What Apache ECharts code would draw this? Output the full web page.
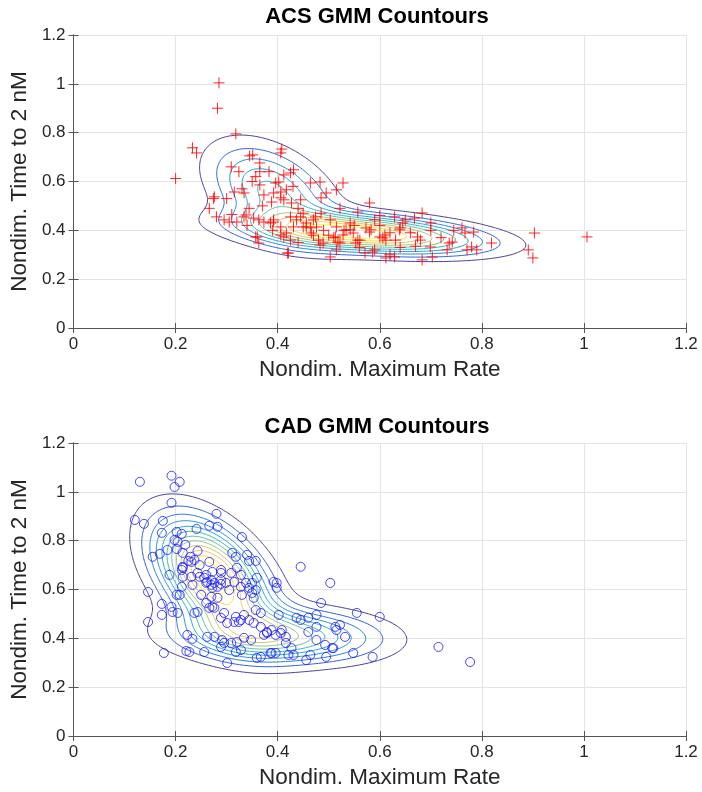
<!DOCTYPE html>
<html>
<head>
<meta charset="utf-8">
<script src="https://cdn.jsdelivr.net/npm/echarts@6/dist/echarts.min.js"></script>
<style>
html, body { margin: 0; padding: 0; background: #fff; }
#chart { width: 702px; height: 792px; }
</style>
</head>
<body>
<div id="chart"></div>
<script>
// ---- data ----
var axisMin = 0, axisMax = 1.2, axisStep = 0.2;

// ACS samples (nondim. max rate, nondim. time to 2 nM)
var acsX = [0.285,0.282,0.318,0.233,0.241,0.200,0.276,0.274,0.266,0.280,0.408,0.406,0.351,0.345,0.309,0.324,0.365,0.365,0.383,0.431,
  0.425,0.412,0.357,0.396,0.402,0.365,0.464,0.483,0.528,0.315,0.334,0.392,0.406,0.417,0.373,0.388,0.406,0.412,0.445,0.427,
  0.485,0.495,0.515,0.295,0.305,0.320,0.338,0.344,0.334,0.353,0.363,0.373,0.392,0.406,0.425,0.437,0.357,0.363,0.417,0.425,
  0.419,0.456,0.466,0.476,0.483,0.503,0.513,0.518,0.528,0.503,0.515,0.534,0.542,0.474,0.456,0.450,0.580,0.683,0.668,0.629,
  0.645,0.640,0.650,0.590,0.557,0.522,0.761,0.767,0.784,0.819,0.780,0.790,0.771,0.736,0.742,0.732,0.699,0.703,0.683,0.674,
  0.680,0.629,0.612,0.590,0.571,0.606,0.612,0.573,0.580,0.583,0.542,0.548,0.557,0.510,0.522,0.515,0.903,0.891,0.900,1.006,
  0.450,0.464,0.489,0.480,0.553,0.561,0.586,0.600,0.610,0.631,0.639,0.620,0.421,0.360,0.445,0.431,0.470,0.386,0.392,0.406,
  0.412,0.530,0.490,0.500,0.470,0.550,0.600,0.620,0.660,0.700,0.720,0.670,0.640,0.560,0.440,0.390,0.340,0.310,0.300,0.370,
  0.440,0.485,0.600,0.700,0.745,0.330,0.350,0.430];
var acsY = [1.004,0.900,0.795,0.738,0.717,0.612,0.537,0.530,0.490,0.455,0.733,0.717,0.709,0.705,0.660,0.640,0.676,0.640,0.640,0.648,
  0.635,0.627,0.620,0.594,0.598,0.586,0.594,0.598,0.594,0.557,0.553,0.553,0.557,0.566,0.545,0.516,0.533,0.525,0.525,0.512,
  0.533,0.553,0.566,0.443,0.434,0.434,0.463,0.490,0.455,0.450,0.443,0.434,0.434,0.414,0.455,0.443,0.373,0.348,0.389,0.360,
  0.307,0.414,0.389,0.414,0.340,0.291,0.373,0.352,0.381,0.443,0.414,0.402,0.430,0.455,0.430,0.470,0.512,0.471,0.450,0.455,
  0.430,0.410,0.443,0.443,0.475,0.490,0.410,0.389,0.393,0.348,0.332,0.320,0.320,0.348,0.352,0.320,0.332,0.291,0.279,0.373,
  0.360,0.291,0.287,0.320,0.307,0.369,0.360,0.410,0.393,0.402,0.402,0.389,0.360,0.370,0.348,0.320,0.389,0.320,0.287,0.373,
  0.414,0.410,0.348,0.360,0.348,0.360,0.311,0.373,0.381,0.360,0.402,0.300,0.307,0.373,0.455,0.414,0.443,0.430,0.443,0.381,
  0.373,0.400,0.400,0.380,0.380,0.420,0.420,0.390,0.390,0.400,0.370,0.335,0.330,0.330,0.350,0.400,0.420,0.465,0.530,0.500,
  0.490,0.470,0.460,0.430,0.400,0.570,0.600,0.580];

// CAD samples
var cadX = [0.130,0.192,0.208,0.198,0.192,0.120,0.138,0.175,0.280,0.266,0.282,0.241,0.202,0.212,0.173,0.330,0.198,0.204,0.184,0.202,
  0.169,0.155,0.219,0.214,0.229,0.225,0.243,0.311,0.318,0.340,0.344,0.357,0.266,0.247,0.214,0.214,0.212,0.188,0.247,0.260,
  0.272,0.289,0.320,0.309,0.359,0.338,0.344,0.260,0.270,0.289,0.233,0.146,0.231,0.237,0.214,0.212,0.289,0.328,0.231,0.243,
  0.256,0.262,0.270,0.276,0.272,0.282,0.289,0.299,0.305,0.315,0.328,0.350,0.330,0.350,0.357,0.353,0.250,0.270,0.282,0.260,
  0.272,0.266,0.276,0.208,0.202,0.173,0.192,0.194,0.204,0.173,0.146,0.237,0.243,0.289,0.295,0.301,0.318,0.324,0.315,0.328,
  0.334,0.344,0.353,0.357,0.367,0.367,0.379,0.373,0.223,0.233,0.262,0.276,0.291,0.309,0.320,0.334,0.348,0.221,0.227,0.177,
  0.256,0.289,0.295,0.301,0.318,0.328,0.359,0.367,0.386,0.445,0.503,0.485,0.437,0.445,0.460,0.476,0.476,0.460,0.513,0.522,
  0.532,0.515,0.493,0.509,0.456,0.495,0.427,0.431,0.421,0.402,0.392,0.398,0.398,0.408,0.416,0.416,0.406,0.388,0.396,0.379,
  0.388,0.396,0.548,0.555,0.600,0.507,0.476,0.586,0.464,0.715,0.777];
var cadY = [1.041,1.066,1.041,1.020,0.955,0.885,0.869,0.881,0.910,0.861,0.857,0.848,0.836,0.828,0.832,0.815,0.803,0.795,0.762,0.766,
  0.746,0.734,0.783,0.750,0.734,0.717,0.758,0.750,0.734,0.742,0.717,0.717,0.713,0.700,0.689,0.652,0.611,0.660,0.652,0.660,
  0.672,0.668,0.689,0.668,0.648,0.627,0.607,0.627,0.619,0.623,0.619,0.590,0.713,0.721,0.693,0.680,0.680,0.660,0.652,0.668,
  0.648,0.631,0.639,0.627,0.607,0.611,0.639,0.627,0.598,0.631,0.611,0.627,0.578,0.586,0.598,0.566,0.578,0.570,0.566,0.545,
  0.529,0.525,0.525,0.578,0.578,0.541,0.529,0.508,0.504,0.496,0.467,0.504,0.508,0.484,0.504,0.463,0.488,0.467,0.467,0.475,
  0.496,0.475,0.463,0.516,0.504,0.447,0.426,0.414,0.414,0.398,0.406,0.406,0.393,0.381,0.385,0.402,0.393,0.348,0.344,0.340,
  0.344,0.365,0.381,0.299,0.344,0.352,0.320,0.324,0.340,0.693,0.627,0.545,0.484,0.475,0.484,0.496,0.447,0.426,0.447,0.455,
  0.406,0.434,0.373,0.360,0.311,0.324,0.360,0.332,0.332,0.496,0.631,0.607,0.627,0.434,0.406,0.381,0.422,0.434,0.414,0.422,
  0.340,0.340,0.340,0.504,0.488,0.360,0.393,0.324,0.332,0.365,0.303];

// starting means for the 2-component mixture fits
var acsStart = [[0.55, 0.39], [0.36, 0.58]];
var cadStart = [[0.24, 0.68], [0.37, 0.43]];
var acsLevelCount = 10;
var cadLevelCount = 12;

// parula colour stops
var parula = ['#352A87', '#0F5CDD', '#1481D6', '#06A4CA', '#2EB7A4', '#87BF77', '#D1BB59', '#FEC832', '#F9FB0E'];

function parulaAt(t) {
  var p = t * (parula.length - 1), i = Math.min(Math.floor(p), parula.length - 2), f = p - i;
  var a = parseInt(parula[i].slice(1), 16), b = parseInt(parula[i + 1].slice(1), 16);
  var c = [16, 8, 0].map(function (s) {
    var va = (a >> s) & 255, vb = (b >> s) & 255;
    return Math.round(va + (vb - va) * f);
  });
  return 'rgb(' + c.join(',') + ')';
}

function gaussComp(w, m, c) {
  var det = c[0] * c[2] - c[1] * c[1];
  return { mx: m[0], my: m[1], a: c[2] / det, b: -c[1] / det, d: c[0] / det,
    norm: w / (2 * Math.PI * Math.sqrt(det)) };
}
function compPdf(p, x, y) {
  var dx = x - p.mx, dy = y - p.my;
  return p.norm * Math.exp(-0.5 * (p.a * dx * dx + 2 * p.b * dx * dy + p.d * dy * dy));
}

// EM fit of a gaussian mixture to the samples
function fitGmm(xs, ys, start) {
  var K = start.length, N = xs.length;
  var w = start.map(function () { return 1 / K; });
  var mu = start.map(function (m) { return m.slice(); });
  var cov = start.map(function () { return [0.01, 0, 0.01]; });
  for (var it = 0; it < 300; it++) {
    var comps = w.map(function (wk, k) { return gaussComp(wk, mu[k], cov[k]); });
    var R = [];
    for (var i = 0; i < N; i++) {
      var r = comps.map(function (p) { return compPdf(p, xs[i], ys[i]); });
      var s = r.reduce(function (a, b) { return a + b; }, 0) || 1e-300;
      R.push(r.map(function (v) { return v / s; }));
    }
    for (var k = 0; k < K; k++) {
      var nk = 0, sx = 0, sy = 0;
      for (i = 0; i < N; i++) { nk += R[i][k]; sx += R[i][k] * xs[i]; sy += R[i][k] * ys[i]; }
      var mx = sx / nk, my = sy / nk, cxx = 0, cxy = 0, cyy = 0;
      for (i = 0; i < N; i++) {
        var dx = xs[i] - mx, dy = ys[i] - my;
        cxx += R[i][k] * dx * dx; cxy += R[i][k] * dx * dy; cyy += R[i][k] * dy * dy;
      }
      w[k] = nk / N; mu[k] = [mx, my];
      cov[k] = [cxx / nk + 1e-6, cxy / nk, cyy / nk + 1e-6];
    }
  }
  var fitted = w.map(function (wk, k) { return gaussComp(wk, mu[k], cov[k]); });
  return function (x, y) {
    var s = 0;
    for (var k = 0; k < fitted.length; k++) s += compPdf(fitted[k], x, y);
    return s;
  };
}

// marching squares -> list of {color, lines}
function contours(f, levelCount) {
  var n = 240, dx = (axisMax - axisMin) / n, dy = dx;
  var z = [], zmax = 0;
  for (var j = 0; j <= n; j++) {
    for (var i = 0; i <= n; i++) {
      var v = f(axisMin + i * dx, axisMin + j * dy);
      z.push(v);
      if (v > zmax) zmax = v;
    }
  }
  function Z(i, j) { return z[j * (n + 1) + i]; }
  var result = [];
  for (var k = 1; k <= levelCount; k++) {
    var L = zmax * k / (levelCount + 1);
    var pts = {}, adj = {};
    var cross = function (key, xa, ya, va, xb, yb, vb) {
      if (!(key in pts)) {
        var t = (L - va) / (vb - va);
        pts[key] = [xa + t * (xb - xa), ya + t * (yb - ya)];
        adj[key] = [];
      }
      return key;
    };
    var link = function (a, b) { adj[a].push(b); adj[b].push(a); };
    for (var j = 0; j < n; j++) {
      for (var i = 0; i < n; i++) {
        var xa = axisMin + i * dx, xb = xa + dx, ya = axisMin + j * dy, yb = ya + dy;
        var va = Z(i, j), vb = Z(i + 1, j), vc = Z(i + 1, j + 1), vd = Z(i, j + 1);
        var e = [];
        if ((va >= L) != (vb >= L)) e.push(cross('h' + i + '_' + j, xa, ya, va, xb, ya, vb));
        if ((vb >= L) != (vc >= L)) e.push(cross('v' + (i + 1) + '_' + j, xb, ya, vb, xb, yb, vc));
        if ((vd >= L) != (vc >= L)) e.push(cross('h' + i + '_' + (j + 1), xa, yb, vd, xb, yb, vc));
        if ((va >= L) != (vd >= L)) e.push(cross('v' + i + '_' + j, xa, ya, va, xa, yb, vd));
        if (e.length == 2) link(e[0], e[1]);
        else if (e.length == 4) {
          var c = (va + vb + vc + vd) / 4;
          if ((c >= L) == (va >= L)) { link(e[0], e[1]); link(e[2], e[3]); }
          else { link(e[0], e[3]); link(e[1], e[2]); }
        }
      }
    }
    var seen = {}, lines = [];
    var keys = Object.keys(adj);
    var starts = keys.filter(function (s) { return adj[s].length == 1; }).concat(keys);
    starts.forEach(function (s) {
      if (seen[s]) return;
      var chain = [], prev = null, cur = s, last = s;
      while (cur && !seen[cur]) {
        seen[cur] = true;
        chain.push(pts[cur]);
        last = cur;
        var nb = adj[cur], nxt = null;
        for (var q = 0; q < nb.length; q++) {
          if (nb[q] !== prev && !seen[nb[q]]) { nxt = nb[q]; break; }
        }
        prev = cur; cur = nxt;
      }
      if (chain.length > 2 && adj[last].indexOf(s) >= 0) chain.push(pts[s]);
      if (chain.length > 1) lines.push({ coords: chain });
    });
    result.push({ color: parulaAt((k - 1) / (levelCount - 1)), lines: lines });
  }
  return result;
}

// ---- chart ----
var font = '"Liberation Sans", Arial, Helvetica, sans-serif';
var ink = '#262626';
var grids = [
  { left: 68, top: 35, width: 618, height: 293 },
  { left: 68, top: 443, width: 618, height: 293 }
];

var xAxes = [], yAxes = [];
grids.forEach(function (g, gi) {
  var base = {
    type: 'value', gridIndex: gi, min: axisMin, max: axisMax, interval: axisStep,
    axisLine: { show: true, lineStyle: { color: '#555', width: 1 } },
    axisTick: { show: true, inside: true, length: 5, lineStyle: { color: '#555' } }
  };
  xAxes.push(Object.assign({}, base, {
    position: 'bottom',
    name: 'Nondim. Maximum Rate', nameLocation: 'middle', nameGap: 30,
    nameTextStyle: { fontFamily: font, fontSize: 22.5, color: ink },
    axisLabel: { fontFamily: font, fontSize: 17, color: ink, margin: 8 },
    splitLine: { show: true, lineStyle: { color: '#e4e4e4', width: 1 } }
  }));
  xAxes.push(Object.assign({}, base, { position: 'top', axisLabel: { show: false }, splitLine: { show: false } }));
  yAxes.push(Object.assign({}, base, {
    position: 'left',
    name: 'Nondim. Time to 2 nM', nameLocation: 'middle', nameGap: 29,
    nameTextStyle: { fontFamily: font, fontSize: 22.5, color: ink },
    axisLabel: { fontFamily: font, fontSize: 17, color: ink, margin: 8 },
    splitLine: { show: true, lineStyle: { color: '#e4e4e4', width: 1 } }
  }));
  yAxes.push(Object.assign({}, base, { position: 'right', axisLabel: { show: false }, splitLine: { show: false } }));
});

var series = [];
function addContours(levels, axisIdx) {
  levels.forEach(function (lv) {
    series.push({
      type: 'lines', coordinateSystem: 'cartesian2d', polyline: true, silent: true,
      xAxisIndex: axisIdx, yAxisIndex: axisIdx, z: 2,
      lineStyle: { color: lv.color, width: 1, opacity: 0.9 },
      data: lv.lines
    });
  });
}
addContours(contours(fitGmm(acsX, acsY, acsStart), acsLevelCount), 0);
addContours(contours(fitGmm(cadX, cadY, cadStart), cadLevelCount), 2);

series.push({
  type: 'scatter', xAxisIndex: 0, yAxisIndex: 0, z: 5, silent: true,
  symbol: 'path://M0,5L10,5M5,0L5,10', symbolSize: 11,
  itemStyle: { color: 'none', borderColor: '#ff0000', borderWidth: 1, opacity: 0.85 },
  data: acsX.map(function (x, i) { return [x, acsY[i]]; })
});
series.push({
  type: 'scatter', xAxisIndex: 2, yAxisIndex: 2, z: 5, silent: true,
  symbol: 'circle', symbolSize: 9,
  itemStyle: { color: 'transparent', borderColor: '#1a1aff', borderWidth: 1 },
  data: cadX.map(function (x, i) { return [x, cadY[i]]; })
});

var chart = echarts.init(document.getElementById('chart'), null, { renderer: 'canvas' });
chart.setOption({
  animation: false,
  backgroundColor: '#fff',
  grid: grids,
  xAxis: xAxes,
  yAxis: yAxes,
  graphic: [
    { type: 'text', x: 377, y: 17, style: { text: 'ACS GMM Countours', font: 'bold 22px ' + font,
      fill: '#000', align: 'center', verticalAlign: 'middle', textAlign: 'center', textVerticalAlign: 'middle' } },
    { type: 'text', x: 377, y: 427, style: { text: 'CAD GMM Countours', font: 'bold 22px ' + font,
      fill: '#000', align: 'center', verticalAlign: 'middle', textAlign: 'center', textVerticalAlign: 'middle' } }
  ],
  series: series
});
</script>
</body>
</html>
